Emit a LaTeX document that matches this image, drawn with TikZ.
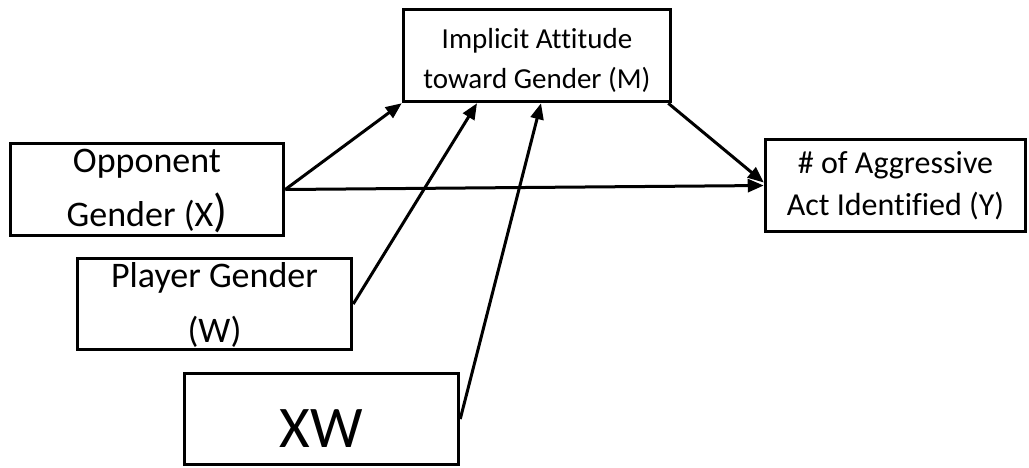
\documentclass[tikz,border=0pt]{standalone}
\usepackage{fontspec}
\setmainfont{Carlito}[Ligatures=NoCommon]
\usetikzlibrary{arrows.meta}

\begin{document}
\begin{tikzpicture}[x=1pt,y=-1pt,>={Triangle[length=16pt,width=13pt]},
  every node/.style={draw,line width=3.5pt,inner sep=0pt,align=center,minimum height=92pt}]
  \useasboundingbox (0,0) rectangle (1029,467);
  \node[minimum width=267pt,text height=70pt,text depth=5pt,font=\fontsize{29}{40}\selectfont] (M) at (537,55.5) {Implicit Attitude\\toward Gender (M)};
  \node[minimum width=273pt,text height=78pt,text depth=5pt,font=\fontsize{36}{54}\selectfont] (X) at (147,189.5) {Opponent\\Gender (X{\fontsize{46}{46}\selectfont)}};
  \node[minimum width=274pt,minimum height=91pt,text height=80pt,text depth=4pt,font=\fontsize{36}{55}\selectfont] (W) at (214.5,304) {Player Gender\\(W)};
  \node[minimum width=274pt,minimum height=91pt,text height=60pt,text depth=4pt,font=\fontsize{59}{66}\selectfont] (XW) at (321.5,419) {XW};
  \node[minimum width=260pt,text height=64pt,text depth=5pt,font=\fontsize{32}{42}\selectfont] (Y) at (895.5,185.5) {\# of Aggressive\\Act Identified (Y)};
  \draw[->,line width=3pt] (X.east) -- (M.south west);
  \draw[->,line width=3pt] (X.east) -- (Y.west);
  \draw[->,line width=3pt] (W.east) -- ([xshift=-60pt]M.south);
  \draw[->,line width=3pt] (XW.east) -- ([xshift=4pt]M.south);
  \draw[->,line width=3pt] ([xshift=-4pt]M.south east) -- ([yshift=3pt]Y.west);
\end{tikzpicture}
\end{document}
